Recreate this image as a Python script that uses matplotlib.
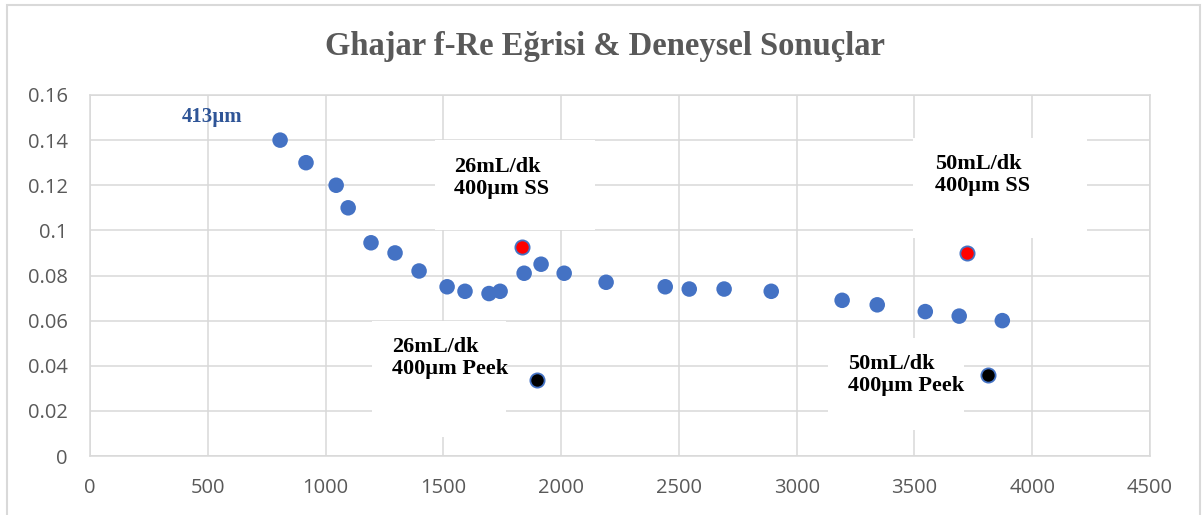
import matplotlib
matplotlib.use("Agg")
import matplotlib.pyplot as plt
from matplotlib.patches import Rectangle
from matplotlib.ticker import FuncFormatter

# Ghajar f-Re egrisi (413um)
re_ghajar = [807, 917, 1045, 1096, 1193, 1295, 1397, 1516, 1592, 1694, 1741,
             1843, 1915, 2013, 2191, 2442, 2544, 2692, 2892, 3193, 3342, 3546,
             3690, 3873]
f_ghajar = [0.140, 0.130, 0.120, 0.110, 0.0945, 0.090, 0.082, 0.075, 0.073,
            0.072, 0.073, 0.081, 0.085, 0.081, 0.077, 0.075, 0.074, 0.074,
            0.073, 0.069, 0.067, 0.064, 0.062, 0.060]

# deneysel sonuclar
re_ss = [1834, 3724]
f_ss = [0.0926, 0.0898]
re_peek = [1898, 3813]
f_peek = [0.0336, 0.0358]

x_ticks = [0, 500, 1000, 1500, 2000, 2500, 3000, 3500, 4000, 4500]
y_ticks = [0, 0.02, 0.04, 0.06, 0.08, 0.10, 0.12, 0.14, 0.16]

title = "Ghajar f-Re Eğrisi & Deneysel Sonuçlar"
# label text, white box (x0, y0, x1, y1), text anchor (x, top line baseline)
labels = [
    ("26mL/dk\n400µm SS", (1465, 0.1002, 2144, 0.1401), (1546, 0.1259)),
    ("50mL/dk\n400µm SS", (3495, 0.0966, 4234, 0.1410), (3588, 0.1272)),
    ("26mL/dk\n400µm Peek", (1197, 0.0084, 1766, 0.0598), (1282, 0.0461)),
    ("50mL/dk\n400µm Peek", (3134, 0.0115, 3711, 0.0523), (3219, 0.0386)),
]

grid_c = "#D9D9D9"
txt_c = "#595959"
blue = "#4472C4"

fig = plt.figure(figsize=(12.02, 5.15), dpi=100)
ax = fig.add_axes([90 / 1202, 1 - 456 / 515, 1060 / 1202, 361 / 515])

# outer chart border
fig.patches.append(Rectangle((7 / 1202, -0.1), 1193 / 1202, 1.1 - 5 / 515,
                             transform=fig.transFigure, fill=False,
                             edgecolor=grid_c, linewidth=1.5))

ax.set_xlim(0, 4500)
ax.set_ylim(0, 0.16)
ax.set_xticks(x_ticks)
ax.set_yticks(y_ticks)
ax.yaxis.set_major_formatter(FuncFormatter(lambda v, p: f"{v:g}"))
ax.grid(True, color=grid_c, linewidth=1.1, zorder=0)
ax.set_axisbelow(True)
for s in ax.spines.values():
    s.set_color(grid_c)
    s.set_linewidth(1.1)
ax.tick_params(length=0, labelsize=14.5, labelcolor=txt_c)
ax.tick_params(axis="y", pad=16)
ax.tick_params(axis="x", pad=16)
for lab in ax.get_xticklabels() + ax.get_yticklabels():
    lab.set_fontfamily("Open Sans")

# anchor the last line; it sits about 0.0098 in f below the first baseline
line_gap = 0.0098
for text, box, anchor in labels:
    x0, y0, x1, y1 = box
    ax.add_patch(Rectangle((x0, y0), x1 - x0, y1 - y0, facecolor="white",
                           edgecolor="none", zorder=1))
    ax.text(anchor[0], anchor[1] - line_gap, text,
            fontfamily="Liberation Serif", fontweight="bold", fontsize=16,
            color="black", ha="left", va="baseline", linespacing=1.15,
            zorder=4)

ax.text(391, 0.148, "413µm", fontfamily="Liberation Serif", fontweight="bold",
        fontsize=15, color="#2F5597", ha="left", va="baseline", zorder=4)

ax.scatter(re_ghajar, f_ghajar, s=125, color=blue, edgecolors="none", zorder=3)
ax.scatter(re_ss, f_ss, s=105, color="red", edgecolors=blue, linewidths=1.3,
           zorder=3)
ax.scatter(re_peek, f_peek, s=105, color="black", edgecolors=blue,
           linewidths=1.3, zorder=3)

fig.text(0.503, 1 - 55 / 515, title, fontfamily="Liberation Serif",
         fontweight="bold", fontsize=23.5, color=txt_c, ha="center",
         va="baseline")

fig.savefig("out.png", dpi=100)
